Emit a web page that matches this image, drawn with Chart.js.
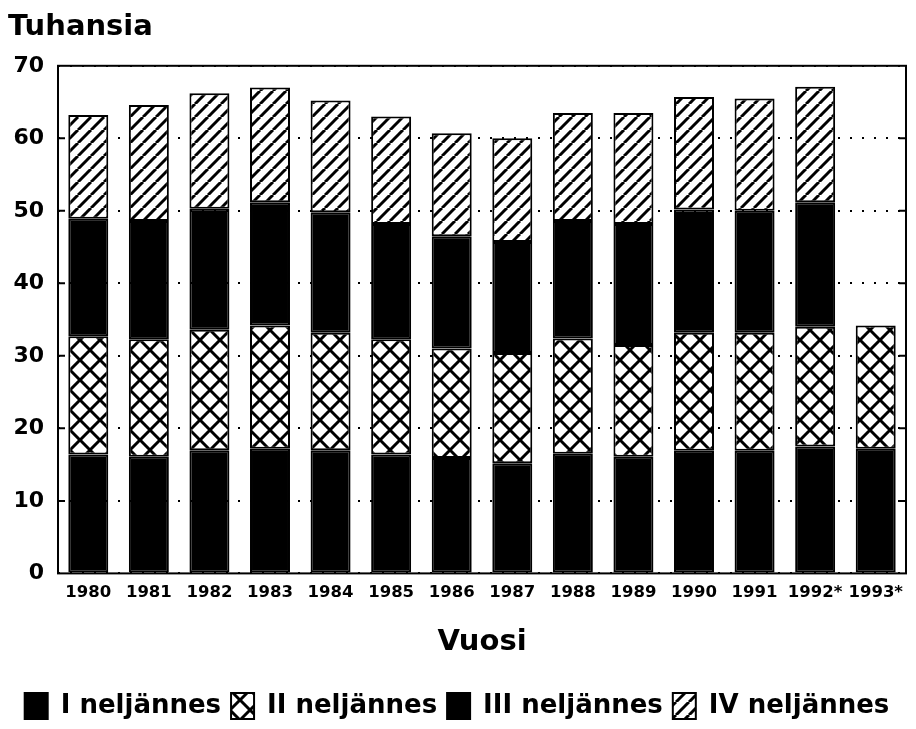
<!DOCTYPE html>
<html>
<head>
<meta charset="utf-8">
<script src="https://cdn.jsdelivr.net/npm/chart.js@4/dist/chart.umd.min.js"></script>
<style>
  body { margin: 0; background: #fff; }
</style>
</head>
<body>
<canvas id="myChart" width="916" height="729"></canvas>
<script>
const years = ['1980', '1981', '1982', '1983', '1984', '1985', '1986', '1987', '1988', '1989', '1990', '1991', '1992*', '1993*'];
// thousands per quarter
const q1 = [16.4, 16.1, 17.0, 17.2, 17.0, 16.4, 15.9, 15.2, 16.5, 16.1, 16.9, 16.9, 17.5, 17.2];
const q2 = [16.3, 16.2, 16.6, 17.0, 16.2, 15.9, 15.1, 15.2, 15.9, 15.4, 16.3, 16.3, 16.5, 17.0];
const q3 = [16.2, 16.3, 16.7, 17.0, 16.6, 15.9, 15.5, 15.3, 16.2, 16.7, 17.0, 16.8, 17.2, null];
const q4 = [14.3, 16.0, 15.9, 15.8, 15.4, 14.8, 14.2, 14.3, 14.9, 15.3, 15.5, 15.5, 15.9, null];
const seriesNames = ['I neljännes', 'II neljännes', 'III neljännes', 'IV neljännes'];
const yTicks = [0, 10, 20, 30, 40, 50, 60, 70];

const font = 'DejaVu Sans';

const makePattern = (size, drawLines) => {
  const c = document.createElement('canvas');
  c.width = size;
  c.height = size;
  const g = c.getContext('2d');
  g.fillStyle = '#fff';
  g.fillRect(0, 0, size, size);
  g.strokeStyle = '#000';
  g.lineWidth = 3;
  drawLines(g, size);
  return g.createPattern(c, 'repeat');
};

// X pattern for quarter II
const crossHatch = makePattern(20, (g, s) => {
  [-s, 0, s].forEach(k => {
    g.beginPath();
    g.moveTo(k, 0); g.lineTo(k + s, s);
    g.moveTo(k + s, 0); g.lineTo(k, s);
    g.stroke();
  });
});

// "/" pattern for quarter IV
const diagHatch = makePattern(13, (g, s) => {
  [-s, 0, s].forEach(k => {
    g.beginPath();
    g.moveTo(k, s); g.lineTo(k + s, 0);
    g.stroke();
  });
});

// frame round the plot + small inward ticks on both sides
const framePlugin = {
  id: 'frame',
  afterDatasetsDraw(chart) {
    const {ctx, chartArea: a, scales: {y}} = chart;
    ctx.save();
    ctx.strokeStyle = '#000';
    ctx.lineWidth = 2;
    ctx.strokeRect(a.left, a.top, a.right - a.left, a.bottom - a.top);
    ctx.beginPath();
    yTicks.slice(1, -1).forEach(v => {
      const py = y.getPixelForValue(v);
      ctx.moveTo(a.left, py); ctx.lineTo(a.left + 7, py);
      ctx.moveTo(a.right - 7, py); ctx.lineTo(a.right, py);
    });
    ctx.stroke();
    ctx.restore();
  }
};

const ctx = document.getElementById('myChart').getContext('2d');

const barStyle = {
  borderColor: '#000',
  borderWidth: 2,
  borderSkipped: false,
  barPercentage: 0.66,
  categoryPercentage: 1
};

const chart = new Chart(ctx, {
  type: 'bar',
  data: {
    labels: years,
    datasets: [
      { label: seriesNames[0], data: q1, backgroundColor: '#000', ...barStyle },
      { label: seriesNames[1], data: q2, backgroundColor: crossHatch, ...barStyle },
      { label: seriesNames[2], data: q3, backgroundColor: '#000', ...barStyle },
      { label: seriesNames[3], data: q4, backgroundColor: diagHatch, ...barStyle }
    ]
  },
  options: {
    responsive: false,
    animation: false,
    layout: { padding: { left: 8, right: 10, top: 0, bottom: 0 } },
    plugins: {
      title: {
        display: true,
        text: 'Tuhansia',
        align: 'start',
        color: '#000',
        font: { family: font, size: 29, weight: 'bold' },
        padding: { top: 10, bottom: 21 }
      },
      legend: {
        position: 'bottom',
        labels: {
          color: '#000',
          font: { family: font, size: 26, weight: 'bold' },
          boxWidth: 23,
          boxHeight: 26,
          padding: 10
        }
      },
      tooltip: { enabled: false }
    },
    scales: {
      x: {
        stacked: true,
        grid: { display: false },
        border: { display: false },
        ticks: {
          color: '#000',
          font: { family: font, size: 16.5, weight: 'bold' },
          autoSkip: false,
          maxRotation: 0,
          padding: 1
        },
        title: {
          display: true,
          text: 'Vuosi',
          color: '#000',
          font: { family: font, size: 29, weight: 'bold' },
          padding: { top: 22, bottom: 23 }
        }
      },
      y: {
        stacked: true,
        min: 0,
        max: 70,
        border: { display: false, dash: [2, 10] },
        grid: {
          color: '#000',
          lineWidth: 2,
          drawTicks: false
        },
        ticks: {
          stepSize: 10,
          color: '#000',
          font: { family: font, size: 22, weight: 'bold' },
          padding: 14
        },
        afterFit: scale => {
          scale.width = 50;
        }
      }
    }
  },
  plugins: [framePlugin]
});
</script>
</body>
</html>
